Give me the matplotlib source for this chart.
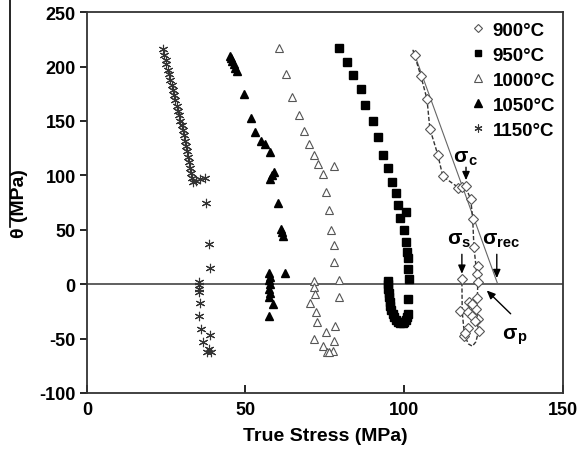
import matplotlib
matplotlib.use("Agg")
import matplotlib.pyplot as plt
from matplotlib.lines import Line2D

plt.rcParams['font.family'] = ['Liberation Sans', 'DejaVu Sans']
plt.rcParams['font.weight'] = 'bold'
plt.rcParams['axes.unicode_minus'] = False

# ---- 900 °C ----
stress_900 = [103.4, 105.3, 107.2, 108.1, 110.6, 112.2, 117.0, 118.3, 119.4, 121.0,
              121.6, 122.0, 123.2, 122.9, 123.2, 118.2, 122.9, 122.6, 123.2, 123.5,
              120.4, 121.3, 117.6, 120.1, 121.3, 122.3, 120.1, 118.8, 119.3]
theta_900 = [211, 191, 170, 143, 119, 99, 88, 89, 90, 78,
             60, 34, 17, 9, 2, 5, -13, -23, -32, -43,
             -16, -18, -25, -26, -29, -34, -40, -48, -45]
# dashed trend through the 900 °C data
trend_900_stress = [102.8, 105.3, 107.2, 108.1, 110.6, 112.2, 117.0, 119.4, 121.0, 121.6,
                    122.0, 122.8, 123.2, 123.0, 123.3, 122.6, 121.5, 120.3, 119.0, 118.3, 118.2]
trend_900_theta = [215, 191, 170, 143, 119, 99, 89, 89, 78, 60,
                   34, 12, 0, -20, -45, -53, -57, -55, -47, -25, 5]
# straight extrapolation to sigma_rec
tangent_stress = [102.8, 129.5]
tangent_theta = [215, 0]

# ---- 950 °C ----
stress_950 = [79.4, 81.9, 83.8, 86.4, 87.6, 90.1, 91.7, 93.3, 94.9, 96.1,
              97.4, 98.0, 100.5, 98.6, 99.9, 100.5, 100.9, 101.2, 101.2, 101.5, 101.2,
              95.0, 94.9, 95.0, 95.2, 95.3, 95.5, 95.7, 96.0, 96.4, 96.9,
              97.5, 98.1, 98.8, 99.5, 100.1, 100.6, 100.9, 101.1]
theta_950 = [217, 204, 192, 179, 165, 150, 135, 119, 107, 94,
             84, 73, 66, 61, 50, 39, 30, 24, 14, 5, -14,
             3, 0, -4, -8, -12, -16, -20, -24, -27, -30,
             -33, -35, -36, -36, -35, -33, -30, -27]

# ---- 1000 °C ----
stress_1000 = [60.5, 62.7, 64.6, 66.8, 68.4, 70.0, 71.5, 72.8, 77.8, 74.4,
               75.3, 76.3, 77.0, 77.8, 77.8, 79.4, 79.4,
               71.5, 71.5, 71.9, 70.3, 72.2, 72.5, 75.3, 78.2, 71.5, 77.8,
               74.4, 77.5, 75.6, 76.3]
theta_1000 = [217, 193, 172, 155, 141, 129, 119, 110, 109, 101,
              85, 68, 50, 36, 20, 4, -12,
              3, -3, -9, -17, -26, -35, -44, -38, -50, -52,
              -57, -61, -62, -62]

# ---- 1050 °C ----
stress_1050 = [45.1, 45.5, 45.9, 46.3, 46.8, 47.2, 49.6, 51.6, 53.0, 54.8,
               56.3, 57.7, 59.0, 58.4, 57.7, 60.1, 61.1, 61.5, 61.8, 62.4,
               57.4, 57.7, 57.5, 57.7, 57.4, 57.6, 57.4, 58.6, 57.4]
theta_1050 = [210, 208, 205, 202, 199, 196, 175, 153, 140, 132,
              129, 121, 103, 100, 97, 75, 51, 48, 44, 10,
              10, 7, 4, 0, -4, -8, -12, -18, -29]

# ---- 1150 °C ----
stress_1150 = [24.0, 24.4, 24.8, 25.1, 25.5, 25.9, 26.3, 26.7, 27.1, 27.5,
               27.9, 28.3, 28.7, 29.1, 29.5, 29.9, 30.3, 30.6, 30.9, 31.2,
               31.5, 31.8, 32.1, 32.4, 32.7, 33.0, 33.3,
               34.5, 35.6, 37.2, 37.5, 38.4, 38.8,
               35.3, 35.3, 35.3, 35.3, 35.6, 35.3, 35.9, 36.6, 37.8, 39.1, 38.8, 38.4]
theta_1150 = [216, 211, 206, 202, 197, 193, 188, 183, 178, 174,
              169, 164, 159, 155, 150, 146, 142, 137, 132, 127,
              122, 117, 112, 107, 102, 98, 94,
              95, 97, 98, 75, 37, 15,
              2, -1, -4, -7, -17, -29, -41, -53, -62, -62, -47, -60]

legend_labels = ['900°C', '950°C', '1000°C', '1050°C', '1150°C']
x_ticks = [0, 50, 100, 150]
y_ticks = [-100, -50, 0, 50, 100, 150, 200, 250]

fig = plt.figure(figsize=(5.79, 4.60), dpi=100)
ax = fig.add_axes([0.150, 0.1435, 0.822, 0.828])

grey = '#555555'
ms = 5.2

ax.axhline(0, color='#444444', lw=1.2, zorder=1)

ax.plot(tangent_stress, tangent_theta, color='#666666', lw=0.8, zorder=2)
ax.plot(trend_900_stress, trend_900_theta, color='#333333', lw=1.0,
        ls=(0, (3, 1.5)), zorder=2)

h900, = ax.plot(stress_900, theta_900, ls='none', marker='D', ms=4.6,
                mfc='white', mec=grey, mew=0.8, zorder=3)
h950, = ax.plot(stress_950, theta_950, ls='none', marker='s', ms=ms,
                mfc='black', mec='black', zorder=3)
h1000, = ax.plot(stress_1000, theta_1000, ls='none', marker='^', ms=ms + 0.8,
                 mfc='white', mec=grey, mew=0.8, zorder=3)
h1050, = ax.plot(stress_1050, theta_1050, ls='none', marker='^', ms=ms + 0.8,
                 mfc='black', mec='black', zorder=3)
h1150, = ax.plot(stress_1150, theta_1150, ls='none', marker=(6, 2, 0), ms=ms + 1.5,
                 mec='#333333', mew=0.8, zorder=3)

ax.set_xlim(0, 150)
ax.set_ylim(-100, 250)
ax.set_xticks(x_ticks)
ax.set_yticks(y_ticks)
ax.tick_params(axis='x', direction='in', length=6, width=1.2, labelsize=13, pad=6)
ax.tick_params(axis='y', direction='out', length=5, width=1.2, labelsize=13, pad=3)
for lab in ax.get_xticklabels() + ax.get_yticklabels():
    lab.set_fontweight('bold')
for sp in ax.spines.values():
    sp.set_linewidth(1.3)
    sp.set_color('#333333')

ax.set_xlabel('True Stress (MPa)', fontsize=14, fontweight='bold', labelpad=6)
ax.set_ylabel('θ (MPa)', fontsize=14, fontweight='bold')
ax.yaxis.set_label_coords(-0.124, 0.5)

# sigma labels with subscripts
def sigma_label(x, y, sub, dx):
    ax.text(x, y, 'σ', fontsize=15, fontweight='bold', ha='center', va='center')
    ax.annotate(sub, (x, y), xytext=(dx, -3), textcoords='offset points',
                fontsize=10.5, fontweight='bold', ha='left', va='center')

sigma_label(117.8, 118, 'c', 5.5)
sigma_label(115.8, 43, 's', 5.5)
sigma_label(126.8, 43, 'rec', 5.5)
sigma_label(133.3, -44, 'p', 5.5)

arrow = dict(arrowstyle='-|>,head_length=0.5,head_width=0.22', color='black', lw=1.0)
ax.annotate('', xy=(119.5, 93), xytext=(119.5, 110), arrowprops=arrow)
ax.annotate('', xy=(118.2, 7), xytext=(118.2, 30), arrowprops=arrow)
ax.annotate('', xy=(129.2, 3), xytext=(129.2, 30), arrowprops=arrow)
ax.annotate('', xy=(125.4, -4), xytext=(134.2, -29), arrowprops=arrow)

leg = ax.legend([h900, h950, h1000, h1050, h1150], legend_labels,
                loc='upper right', bbox_to_anchor=(1.012, 1.01), frameon=False,
                fontsize=13.5, handlelength=0.8, handletextpad=0.4,
                labelspacing=0.42, borderaxespad=0.3, markerscale=0.85)
for t in leg.get_texts():
    t.set_fontweight('bold')

# vertical rule at the left edge
fig.add_artist(Line2D([10 / 579, 10 / 579], [1.0, 1 - 228 / 460],
                      color='black', lw=1.2, transform=fig.transFigure))

fig.savefig('out.png', dpi=100)
